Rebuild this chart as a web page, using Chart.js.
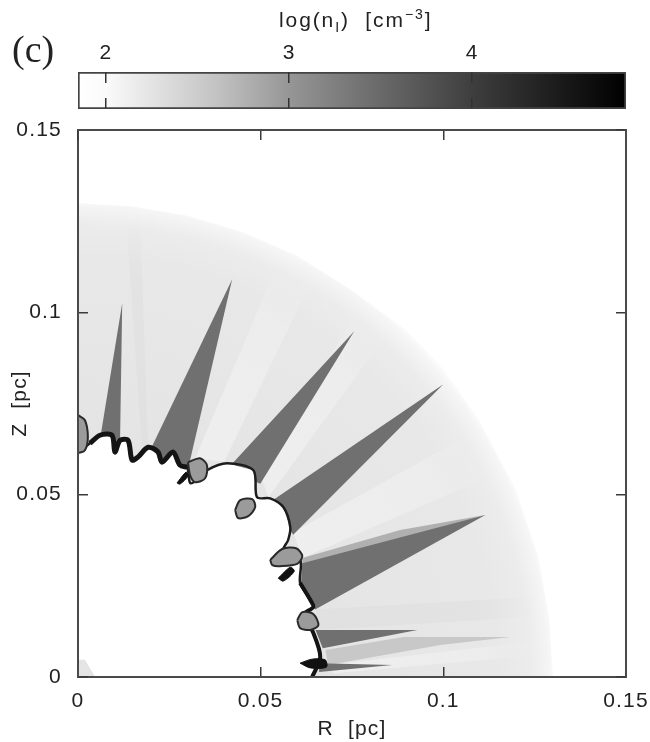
<!DOCTYPE html>
<html>
<head>
<meta charset="utf-8">
<title>log(nI) map</title>
<script src="https://cdn.jsdelivr.net/npm/chart.js@4"></script>
<style>
    body { margin: 0; background: white; }
    #wrap { position: relative; width: 650px; height: 742px; overflow: hidden; }
    canvas { position: absolute; left: 0; filter: blur(0.7px); }
    #mapChart { top: 0; }
    #barChart { top: 0; }
    .label { position: absolute; white-space: nowrap; color: #222; filter: blur(0.5px); }
    #panel { left: 12px; top: 27px; font: 38px "Liberation Serif", serif; }
    #barTitle { left: 279px; top: 8px; font: 21px "Liberation Sans", sans-serif; letter-spacing: 1.9px; }
    #barTitle sub, #barTitle sup { font-size: 14px; line-height: 0; }
</style>
</head>
<body>
<div id="wrap">
    <canvas id="mapChart" width="650" height="742"></canvas>
    <canvas id="barChart" width="650" height="122"></canvas>
    <div class="label" id="panel">(c)</div>
    <div class="label" id="barTitle">log(n<sub>I</sub>)&nbsp; [cm<sup>&minus;3</sup>]</div>
</div>
<script>
// --------------------------------------------
// Data (R, Z in pc)
// --------------------------------------------

const axisTicks = [0, 0.05, 0.1, 0.15];
const axisTickLabels = ["0", "0.05", "0.1", "0.15"];

const barTicks = [2, 3, 4];
const barRange = [1.847, 4.84];
const barLevels = [1.847, 2.0, 2.2, 2.6, 3.0, 3.5, 4.0, 4.5, 4.84];
const barGrays = [255, 250, 232, 195, 150, 105, 62, 25, 0];

const shellRadii = [0.06, 0.115, 0.124, 0.129, 0.1315];
const shellGrays = [228, 232, 236, 245, 255];

const shellEdge = [
    [0, 0], [0, 0.130], [0.015, 0.129], [0.03, 0.1265], [0.045, 0.122], [0.06, 0.1155],
    [0.075, 0.106], [0.09, 0.095], [0.10, 0.0845], [0.11, 0.070], [0.12, 0.051],
    [0.126, 0.033], [0.129, 0.016], [0.130, 0]
];

const shockFront = [
    [0, 0.0617], [0.0033, 0.0641], [0.0060, 0.0663], [0.0093, 0.0663], [0.0101, 0.0617],
    [0.0115, 0.0649], [0.0137, 0.0649], [0.0148, 0.0595], [0.0164, 0.0603], [0.0192, 0.0630],
    [0.0219, 0.0617], [0.0230, 0.0589], [0.0260, 0.0617], [0.0279, 0.0581], [0.0299, 0.0575],
    [0.0307, 0.0532], [0.0326, 0.0540], [0.0353, 0.0567], [0.0408, 0.0586], [0.0480, 0.0567],
    [0.0490, 0.0493], [0.0526, 0.0490], [0.0562, 0.0466], [0.0581, 0.0411], [0.0575, 0.0375],
    [0.0562, 0.0348], [0.0608, 0.0321], [0.0608, 0.0258], [0.0636, 0.0211], [0.0644, 0.0192],
    [0.0617, 0.0170], [0.0644, 0.0121], [0.0663, 0.0055], [0.0641, 0]
];
const thickFrontUpper = shockFront.slice(1, 15);
const thickFrontLower = shockFront.slice(27);

// dark neutral wedges
const wedgeA = [[0.0121, 0.1025], [0.0060, 0.0650], [0.0115, 0.0640]];
const wedgeB = [[0.0422, 0.1091], [0.0192, 0.0610], [0.0301, 0.0570]];
const wedgeC = [[0.0756, 0.0948], [0.0408, 0.0570], [0.0499, 0.0530]];
const wedgeD = [[0.1000, 0.0803], [0.0526, 0.0480], [0.0589, 0.0390]];
const wedgeE = [[0.1115, 0.0444], [0.0614, 0.0312], [0.0610, 0.0250], [0.0649, 0.0185]];
const wedgeF = [[0.0929, 0.0129], [0.0650, 0.0129], [0.0670, 0.0079]];
const wedgeG = [[0.0860, 0.0033], [0.0660, 0.0038], [0.0660, 0.0014]];

// paler wedges and streaks
const paleBand = [[0.0614, 0.0326], [0.0882, 0.0403], [0.1115, 0.0444], [0.0614, 0.0304]];
const paleWedge = [[0.1184, 0.0110], [0.0891, 0.0110], [0.0677, 0.0074], [0.0685, 0.0033], [0.0992, 0.0088]];
const lightStreaks = [
    [[0.0321, 0.0600], [0.0400, 0.0590], [0.0650, 0.1110], [0.0560, 0.1165]],
    [[0.0504, 0.0540], [0.0521, 0.0493], [0.0870, 0.0975], [0.0780, 0.1040]],
    [[0.0589, 0.0397], [0.0614, 0.0326], [0.1150, 0.0560], [0.1100, 0.0680]],
    [[0.0685, 0.0033], [0.0700, 0.0010], [0.1270, 0.0060], [0.1270, 0.0100]]
];
const darkStreaks = [
    [[0.0175, 0.0625], [0.0192, 0.0620], [0.0170, 0.1270], [0.0130, 0.1280]],
    [[0.0650, 0.0185], [0.0658, 0.0129], [0.1250, 0.0165], [0.1250, 0.0220]]
];
const originSmear = [[0, 0.0047], [0.0019, 0.0047], [0.0047, 0], [0, 0]];

// clumps along the front
const grayClumps = [
    [[0, 0.0718], [0.0019, 0.0704], [0.0027, 0.0658], [0.0019, 0.0622], [0, 0.0617]],
    [[0.0301, 0.0589], [0.0334, 0.0600], [0.0353, 0.0581], [0.0348, 0.0545], [0.0321, 0.0534], [0.0307, 0.0553]],
    [[0.0430, 0.0458], [0.0444, 0.0485], [0.0477, 0.0488], [0.0485, 0.0466], [0.0466, 0.0441], [0.0438, 0.0436]],
    [[0.0526, 0.0321], [0.0559, 0.0351], [0.0597, 0.0353], [0.0614, 0.0332], [0.0600, 0.0310], [0.0553, 0.0304], [0.0532, 0.0307]],
    [[0.0600, 0.0156], [0.0614, 0.0178], [0.0644, 0.0173], [0.0658, 0.0142], [0.0636, 0.0129], [0.0608, 0.0134]]
];
const blackClumps = [
    [[0.0271, 0.0532], [0.0296, 0.0562], [0.0301, 0.0551], [0.0279, 0.0529]],
    [[0.0548, 0.0271], [0.0581, 0.0301], [0.0592, 0.0290], [0.0562, 0.0263]],
    [[0.0608, 0.0038], [0.0641, 0.0049], [0.0677, 0.0047], [0.0680, 0.0027], [0.0636, 0.0025]]
];

// --------------------------------------------
// Helpers
// --------------------------------------------

function gray(v) {
    return "rgb(" + v + "," + v + "," + v + ")";
}

function region(points, color, order, line) {
    return {
        data: points.map(p => ({ x: p[0], y: p[1] })),
        showLine: true,
        fill: "shape",
        backgroundColor: color,
        borderColor: line ? line.color : color,
        borderWidth: line ? line.width : 0,
        tension: line ? 0.3 : 0,
        pointRadius: 0,
        order: order
    };
}

function stroke(points, color, width, order) {
    return Object.assign(region(points, "transparent", order, { color: color, width: width }), { fill: false });
}

function closed(points) {
    return points.concat([points[0]]);
}

function radialAtOrigin(chart, outerValue) {
    const sx = chart.scales.x;
    const cx = sx.getPixelForValue(0);
    const cy = chart.scales.y.getPixelForValue(0);
    const outer = sx.getPixelForValue(outerValue) - cx;
    return chart.ctx.createRadialGradient(cx, cy, 0, cx, cy, outer);
}

function shellGradient(context) {
    const chart = context.chart;
    if (!chart.chartArea) return gray(232);
    const last = shellRadii[shellRadii.length - 1];
    const g = radialAtOrigin(chart, last);
    shellRadii.forEach((r, i) => {
        g.addColorStop(r / last, gray(shellGrays[i]));
    });
    return g;
}

// streaks fade out before they reach the shell edge
function fadingStreak(v) {
    return function (context) {
        const chart = context.chart;
        if (!chart.chartArea) return gray(v);
        const g = radialAtOrigin(chart, 0.13);
        g.addColorStop(0.45, "rgba(" + v + "," + v + "," + v + ",0.95)");
        g.addColorStop(0.85, "rgba(" + v + "," + v + "," + v + ",0.6)");
        g.addColorStop(0.97, "rgba(" + v + "," + v + "," + v + ",0)");
        return g;
    };
}

function barGradient(context) {
    const chart = context.chart;
    if (!chart.chartArea) return gray(150);
    const sx = chart.scales.x;
    const g = chart.ctx.createLinearGradient(sx.left, 0, sx.right, 0);
    barLevels.forEach((v, i) => {
        g.addColorStop((v - barRange[0]) / (barRange[1] - barRange[0]), gray(barGrays[i]));
    });
    return g;
}

// wider text like the reference
const spacedText = {
    id: "spacedText",
    beforeLayout(chart) {
        chart.ctx.letterSpacing = "1.2px";
    }
};

const tickFont = { family: "Liberation Sans", size: 21 };
const titleFont = { family: "Liberation Sans", size: 21 };
const frame = { color: "#4a4a4a", width: 2, z: 2 };
const tickGrid = { z: 2, drawOnChartArea: false, tickLength: -10, color: "#3a3a3a", lineWidth: 1.5 };

function mapTicks(scale) {
    scale.ticks = axisTicks.map(v => ({ value: v }));
}

function mapLabel(value, index) {
    return axisTickLabels[index];
}

// pin an axis box so the plot area lands where the reference has it
function pinBox(size) {
    return function (scale) {
        if (scale.isHorizontal()) {
            scale.height = size;
        } else {
            scale.width = size;
        }
        scale.paddingLeft = 0;
        scale.paddingRight = 0;
        scale.paddingTop = 0;
        scale.paddingBottom = 0;
    };
}

// --------------------------------------------
// Density Map
// --------------------------------------------

const mapDatasets = [
    region(shellEdge, shellGradient, 20)
];

lightStreaks.forEach(s => mapDatasets.push(region(s, fadingStreak(240), 19)));
darkStreaks.forEach(s => mapDatasets.push(region(s, fadingStreak(224), 18)));

mapDatasets.push(region(paleWedge, gray(200), 16));
mapDatasets.push(region(paleBand, gray(176), 15));

[wedgeA, wedgeB, wedgeC, wedgeD, wedgeE, wedgeF, wedgeG].forEach(w => {
    mapDatasets.push(region(w, gray(112), 14));
});

mapDatasets.push(region([[0, 0]].concat(shockFront), "white", 10));
mapDatasets.push(region(originSmear, gray(228), 9));

// front line stroked on its own so the axes stay clean
mapDatasets.push(stroke(shockFront, "#1c1c1c", 2.5, 8));
mapDatasets.push(stroke(thickFrontUpper, "#141414", 5, 7));
mapDatasets.push(stroke(thickFrontLower, "#141414", 4, 7));

grayClumps.forEach(c => {
    mapDatasets.push(region(closed(c), gray(155), 6, { color: "#2a2a2a", width: 2 }));
});
blackClumps.forEach(c => {
    mapDatasets.push(region(closed(c), "#111", 5, { color: "#111", width: 1 }));
});

new Chart(document.getElementById("mapChart"), {
    type: "scatter",
    data: { datasets: mapDatasets },
    plugins: [spacedText],
    options: {
        responsive: false,
        animation: false,
        plugins: { legend: { display: false }, tooltip: { enabled: false } },
        scales: {
            x: {
                type: "linear", position: "bottom", min: 0, max: 0.15,
                afterBuildTicks: mapTicks,
                afterFit: pinBox(65),
                border: frame, grid: tickGrid,
                ticks: { font: tickFont, color: "#222", padding: 22, maxRotation: 0, callback: mapLabel },
                title: { display: true, text: "R  [pc]", font: titleFont, color: "#222", padding: { top: 0, bottom: 0 } }
            },
            y: {
                type: "linear", position: "left", min: 0, max: 0.15,
                afterBuildTicks: mapTicks,
                afterFit: pinBox(78),
                border: frame, grid: tickGrid,
                ticks: { font: tickFont, color: "#222", padding: 26, callback: mapLabel },
                title: { display: true, text: "Z  [pc]", font: titleFont, color: "#222", padding: { top: 8, bottom: 0 } }
            },
            xTop: {
                type: "linear", position: "top", min: 0, max: 0.15,
                afterBuildTicks: mapTicks,
                afterFit: pinBox(130),
                border: frame, grid: tickGrid,
                ticks: { display: false }
            },
            yRight: {
                type: "linear", position: "right", min: 0, max: 0.15,
                afterBuildTicks: mapTicks,
                afterFit: pinBox(24),
                border: frame, grid: tickGrid,
                ticks: { display: false }
            }
        }
    }
});

// --------------------------------------------
// Colour Bar
// --------------------------------------------

new Chart(document.getElementById("barChart"), {
    type: "bar",
    data: {
        labels: [""],
        datasets: [{
            data: [barRange],
            backgroundColor: barGradient,
            borderColor: "#444",
            borderWidth: 2,
            borderSkipped: false,
            barPercentage: 1,
            categoryPercentage: 1
        }]
    },
    plugins: [spacedText],
    options: {
        indexAxis: "y",
        responsive: false,
        animation: false,
        layout: { padding: { left: 78, right: 24, bottom: 13 } },
        plugins: { legend: { display: false }, tooltip: { enabled: false } },
        scales: {
            x: {
                type: "linear", position: "top", min: barRange[0], max: barRange[1],
                afterBuildTicks: s => { s.ticks = barTicks.map(v => ({ value: v })); },
                afterFit: pinBox(72),
                border: { display: false, dash: [11, 15, 10, 100] },
                grid: { z: 1, drawTicks: false, color: "#333", lineWidth: 1.5 },
                ticks: { font: tickFont, color: "#222", padding: 6, maxRotation: 0 }
            },
            y: { display: false }
        }
    }
});
</script>
</body>
</html>
